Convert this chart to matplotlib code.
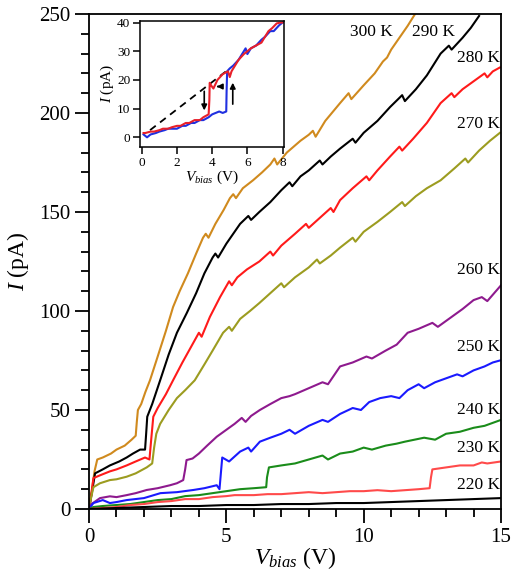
import matplotlib
matplotlib.use("Agg")
import matplotlib.pyplot as plt
from matplotlib.ticker import MultipleLocator

plt.rcParams['font.family'] = ['Liberation Serif', 'DejaVu Serif']
plt.rcParams['mathtext.fontset'] = 'custom'
plt.rcParams['mathtext.rm'] = 'Liberation Serif'
plt.rcParams['mathtext.it'] = 'Liberation Serif:italic'

# ---------------- main data ----------------
v300 = [0, 0.1, 0.2, 0.3, 0.5, 0.8, 1.0, 1.3, 1.55, 1.7, 1.74, 1.78, 1.9, 2.05, 2.22, 2.5, 2.8, 3.06, 3.3, 3.6, 3.9, 4.15, 4.25, 4.35, 4.6, 4.9, 5.13, 5.25, 5.35, 5.6, 5.97, 6.3, 6.6, 6.75, 6.85, 7.2, 7.7, 8.0, 8.15, 8.25, 8.6, 9.14, 9.45, 9.55, 10.0, 10.4, 10.7, 10.85, 11.0, 11.3, 11.6, 11.87]
i300 = [0, 9, 19, 25, 26, 28, 30, 32, 35, 37, 44, 50, 53, 59, 65, 77, 90, 102, 110, 119, 129, 137, 139, 137, 144, 151, 157, 159, 157, 162, 166, 170, 174, 177, 174, 180, 186, 189, 191, 188, 196, 205, 210, 207, 214, 220, 226, 228, 232, 238, 244, 250]

v290 = [0, 0.1, 0.22, 0.5, 0.76, 1.1, 1.37, 1.6, 1.86, 2.04, 2.08, 2.12, 2.3, 2.59, 2.9, 3.2, 3.56, 3.9, 4.2, 4.5, 4.6, 4.7, 5.0, 5.5, 5.8, 5.9, 6.2, 6.6, 7.0, 7.3, 7.4, 7.7, 8.0, 8.4, 8.5, 8.8, 9.14, 9.6, 9.7, 10.0, 10.5, 10.96, 11.4, 11.5, 11.9, 12.3, 12.8, 13.1, 13.2, 13.6, 13.9, 14.2]
i290 = [0, 8, 18, 20, 22, 24, 26, 28, 30, 30, 38, 46.6, 53, 65, 78, 89, 99, 109, 119, 127, 129, 127, 134, 144, 148, 146, 150, 155, 161, 165, 163, 168, 171, 176, 174, 178, 182, 187, 185, 190, 196, 203, 209, 206, 212, 219, 230, 234, 232, 238, 243, 249]

v280 = [0, 0.08, 0.16, 0.4, 0.76, 1.0, 1.37, 1.7, 2.04, 2.2, 2.27, 2.34, 2.5, 2.8, 3.06, 3.4, 3.8, 4.0, 4.1, 4.4, 4.77, 5.1, 5.2, 5.4, 5.75, 6.2, 6.6, 6.7, 7.0, 7.5, 7.9, 8.0, 8.4, 8.8, 8.9, 9.14, 9.6, 10.1, 10.2, 10.5, 10.96, 11.3, 11.4, 11.8, 12.3, 12.8, 13.2, 13.3, 13.6, 14.0, 14.4, 14.5, 14.7, 14.96]
i280 = [0, 7, 15.6, 17, 19, 20, 22, 24, 26, 25, 36, 46.6, 51, 58, 65, 74, 84, 89, 87, 97, 107, 115, 113, 117, 121, 125, 130, 128, 133, 139, 144, 142, 147, 152, 150, 156, 162, 168, 166, 171, 178, 183, 181, 187, 195, 205, 210, 208, 212, 216, 220, 218, 221, 223]

v270 = [0, 0.08, 0.16, 0.4, 0.76, 1.0, 1.37, 1.7, 2.1, 2.3, 2.37, 2.45, 2.59, 2.9, 3.2, 3.5, 3.85, 4.2, 4.5, 4.88, 5.1, 5.2, 5.5, 5.86, 6.2, 6.6, 7.0, 7.1, 7.5, 8.0, 8.3, 8.4, 8.8, 9.14, 9.6, 9.7, 10.0, 10.5, 10.96, 11.4, 11.5, 11.9, 12.3, 12.8, 13.3, 13.7, 13.8, 14.2, 14.6, 14.96]
i270 = [0, 6, 11, 13, 14.6, 15, 16.3, 18, 21, 23, 31, 38, 43, 50, 56, 60, 65, 73, 80, 89, 92, 90, 96, 100, 104, 109, 114, 112, 117, 122, 126, 124, 128, 132, 137, 135, 140, 145, 150, 155, 153, 158, 162, 166, 172, 177, 175, 181, 186, 190]

v260 = [0, 0.04, 0.4, 0.76, 1.0, 1.37, 1.7, 2.1, 2.5, 2.95, 3.2, 3.43, 3.5, 3.55, 3.77, 4.0, 4.3, 4.65, 5.0, 5.3, 5.56, 5.7, 5.9, 6.22, 6.6, 7.0, 7.3, 7.5, 8.0, 8.5, 8.7, 9.14, 9.6, 10.1, 10.3, 10.8, 11.2, 11.6, 12.0, 12.5, 12.7, 13.2, 13.6, 14.0, 14.3, 14.5, 15.0]
i260 = [0, 2, 5.5, 6.4, 6, 7, 8, 9.6, 10.5, 12, 13, 14.6, 20, 24.7, 25.5, 28, 32, 36.5, 40, 43, 46, 44, 47, 50, 53, 56, 57, 58, 61, 64, 63, 72, 74, 77, 76, 80, 83, 89, 91, 94, 92, 97, 101, 105.5, 107, 105, 113]

v250 = [0, 0.16, 0.5, 0.76, 1.0, 1.37, 2.0, 2.6, 3.2, 3.8, 4.2, 4.65, 4.75, 4.8, 4.85, 5.1, 5.5, 5.8, 5.9, 6.22, 6.6, 7.0, 7.3, 7.5, 8.0, 8.5, 8.7, 9.14, 9.6, 9.9, 10.2, 10.6, 11.0, 11.3, 11.6, 12.0, 12.2, 12.6, 13.0, 13.4, 13.6, 14.0, 14.4, 14.7, 14.96]
i250 = [0, 3, 4.5, 3, 3.5, 4.5, 5.5, 8, 8.5, 9.6, 10.5, 12, 10, 18, 26, 24, 29, 31, 29, 34, 36, 38, 40, 38, 42, 45, 44, 48, 51, 50, 54, 56, 57, 56, 60, 63, 61, 64, 66, 68, 67, 70, 72, 74, 75]

v240 = [0, 0.16, 0.5, 1.0, 1.5, 2.0, 2.5, 3.0, 3.5, 4.0, 4.5, 5.0, 5.5, 6.0, 6.45, 6.48, 6.55, 7.0, 7.5, 8.0, 8.5, 8.7, 9.14, 9.6, 10.0, 10.3, 10.8, 11.2, 11.5, 12.2, 12.6, 13.0, 13.5, 14.0, 14.4, 15.0]
i240 = [0, 1, 1.5, 2, 2.5, 3.5, 4.5, 5, 6.5, 7, 8, 9, 10, 10.5, 11, 16, 21, 22, 23, 25, 27, 25, 28, 29, 31, 30, 32, 33, 34, 36, 35, 38, 39, 41, 42, 45]

v230 = [0, 0.5, 1.0, 1.5, 2.0, 2.5, 3.0, 3.5, 4.0, 4.5, 5.0, 5.3, 6.0, 6.5, 7.0, 7.5, 8.0, 8.5, 9.0, 9.5, 10.0, 10.5, 11.0, 11.5, 12.0, 12.4, 12.45, 12.5, 13.0, 13.5, 14.0, 14.3, 14.5, 15.0]
i230 = [0, 0.5, 1, 2, 2.5, 3.5, 4, 5, 5, 6, 6.5, 7, 7, 7.5, 7.5, 8, 8.5, 8, 8.5, 9, 9, 9.5, 9, 9.5, 10, 10.5, 16, 20, 21, 22, 22, 23.5, 23, 24]

v220 = [0, 1.0, 2.0, 3.0, 4.0, 5.0, 6.0, 7.0, 8.0, 9.0, 10.0, 11.0, 12.0, 13.0, 14.0, 15.0]
i220 = [0, 0.5, 1, 1.5, 1.5, 2, 2, 2.5, 2.5, 3, 3, 3.5, 4, 4.5, 5, 5.5]

temps = ['300 K', '290 K', '280 K', '270 K', '260 K', '250 K', '240 K', '230 K', '220 K']
colors = ['#D08A1E', '#000000', '#FF1A1A', '#9C9C20', '#8E1A8E', '#1A1AFF', '#1A8C1A', '#FF4A4A', '#000000']
series = [(v300, i300), (v290, i290), (v280, i280), (v270, i270), (v260, i260),
          (v250, i250), (v240, i240), (v230, i230), (v220, i220)]
label_x = [11.07, 13.33, 14.95, 14.95, 14.95, 14.95, 14.95, 14.95, 14.95]
label_y = [241, 241, 228, 194.4, 120.7, 81.8, 50, 30.8, 12.1]

# ---------------- inset data ----------------
vin_up = [0.1, 0.3, 0.5, 0.8, 1.0, 1.3, 1.5, 1.8, 2.0, 2.3, 2.5, 2.8, 3.0, 3.3, 3.5, 3.8, 4.0, 4.2, 4.4, 4.6, 4.8, 4.82, 4.85, 5.0, 5.2, 5.5, 5.8, 5.9, 6.0, 6.2, 6.5, 6.8, 7.0, 7.3, 7.5, 7.8, 8.0]
iin_up = [1, 0, 1, 1.5, 2, 2.5, 3, 3, 3, 4, 4, 5, 5, 6, 6, 7, 8, 8.5, 9, 8.5, 9, 16, 23, 24, 25, 27, 30, 31, 29, 31, 32, 34, 35, 37, 37, 39, 40]
vin_dn = [8.0, 7.9, 7.67, 7.4, 7.2, 7.0, 6.8, 6.5, 6.2, 6.0, 5.8, 5.5, 5.3, 5.1, 5.0, 4.9, 4.6, 4.3, 4.07, 3.95, 3.86, 3.84, 3.8, 3.5, 3.3, 3.0, 2.7, 2.5, 2.2, 2.0, 1.7, 1.5, 1.2, 1.0, 0.7, 0.5, 0.2, 0.1]
iin_dn = [40, 40, 39.7, 38, 37, 35, 33, 32, 31, 30, 29, 27, 25, 23, 21, 23, 22, 20, 17, 18, 19, 13, 8, 7, 6, 6, 5, 5, 4, 4, 3.5, 3, 3, 2.5, 2, 2, 1.5, 1.5]
vin_dash = [0.47, 5.0]
iin_dash = [2.5, 24]

fig = plt.figure(figsize=(5.11, 5.71), dpi=100)
ax = fig.add_axes([0.1742, 0.1086, 0.8063, 0.8669])
for (v, i), c in zip(series, colors):
    ax.plot(v, i, color=c, lw=1.5)
for t, c, x, y in zip(temps, colors, label_x, label_y):
    ax.text(x, y, t, ha='right', va='center', fontsize=12.5, color='black')

ax.set_xlim(0, 15)
ax.set_ylim(0, 250)
ax.xaxis.set_major_locator(MultipleLocator(5))
ax.xaxis.set_minor_locator(MultipleLocator(1))
ax.yaxis.set_major_locator(MultipleLocator(50))
ax.yaxis.set_minor_locator(MultipleLocator(10))
ax.tick_params(which='both', direction='out', width=1.3, labelsize=15)
ax.tick_params(which='major', length=10)
ax.tick_params(which='minor', length=6)
for s in ax.spines.values():
    s.set_linewidth(1.3)
ax.set_xlabel(r'$V_{bias}$ (V)', fontsize=17, labelpad=-1)
ax.set_ylabel(r'$I$ (pA)', fontsize=17, labelpad=6)

# inset
axi = fig.add_axes([0.274, 0.7429, 0.2824, 0.2207])
axi.plot(vin_dash, iin_dash, color='black', lw=1.3, ls=(0, (4, 3)))
axi.plot(vin_up, iin_up, color='#2030E0', lw=1.5)
axi.plot(vin_dn, iin_dn, color='#E8202A', lw=1.5)
axi.annotate('', xy=(3.55, 8.4), xytext=(3.55, 17), arrowprops=dict(arrowstyle='-|>', color='black', lw=1.2, mutation_scale=8))
axi.annotate('', xy=(5.17, 20), xytext=(5.17, 10.6), arrowprops=dict(arrowstyle='-|>', color='black', lw=1.2, mutation_scale=8))
axi.annotate('', xy=(4.1, 17.7), xytext=(4.5, 17.7), arrowprops=dict(arrowstyle='-|>', color='black', lw=1.2, mutation_scale=8))
axi.set_xlim(-0.1, 8.1)
axi.set_ylim(-3.3, 40.6)
axi.xaxis.set_major_locator(MultipleLocator(2))
axi.yaxis.set_major_locator(MultipleLocator(10))
axi.tick_params(which='both', direction='out', width=1.1, length=5, labelsize=9.5, pad=2)
for s in axi.spines.values():
    s.set_linewidth(1.1)
axi.set_xlabel(r'$V_{bias}$ (V)', fontsize=11, labelpad=0)
axi.set_ylabel(r'$I$ (pA)', fontsize=11, labelpad=1)

fig.savefig('out.png', dpi=100)
